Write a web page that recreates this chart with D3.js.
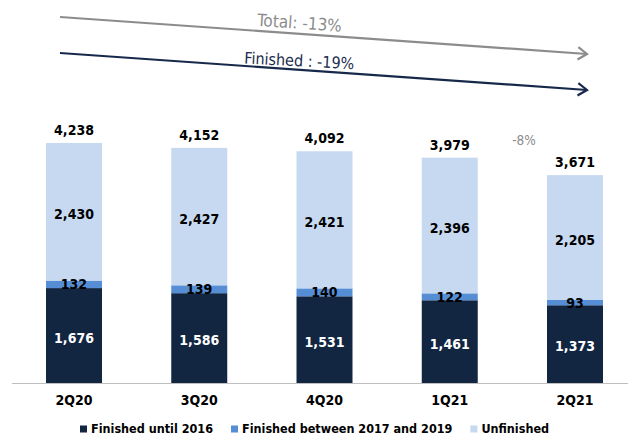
<!DOCTYPE html>
<html>
<head>
<meta charset="utf-8">
<script src="https://cdn.jsdelivr.net/npm/d3@7"></script>
<style>
  body { margin: 0; background: #fff; }
  svg { display: block; font-family: "DejaVu Sans Condensed", "DejaVu Sans", sans-serif; }
  .lbl { font-weight: bold; font-size: 14px; }
</style>
</head>
<body>
<div id="chart"></div>
<script>
const quarters = ["2Q20", "3Q20", "4Q20", "1Q21", "2Q21"];
const finishedUntil2016 = [1676, 1586, 1531, 1461, 1373];
const finished2017to2019 = [132, 139, 140, 122, 93];
const unfinished = [2430, 2427, 2421, 2396, 2205];
const totals = [4238, 4152, 4092, 3979, 3671];
const seriesNames = ["Finished until 2016", "Finished between 2017 and 2019", "Unfinished"];
const seriesColors = ["#122642", "#558ed5", "#c6d9f1"];
const labelColors = ["#fff", "#000", "#000"];
const trendLabels = ["Total: -13%", "Finished : -19%"];
const lastChange = "-8%";

const width = 628, height = 435;
const baseY = 383;

const svg = d3.select("#chart").append("svg")
    .attr("width", width)
    .attr("height", height);

const step = 125.25;
const x = d3.scaleBand()
    .domain(quarters)
    .range([74 - step / 2, 575 + step / 2])
    .paddingInner(0.553)
    .paddingOuter(0.553 / 2);

const y = d3.scaleLinear()
    .domain([0, 4238])
    .range([baseY, 143]);

// stack the three series
const rows = quarters.map((q, i) => ({
    q: q, a: finishedUntil2016[i], b: finished2017to2019[i], c: unfinished[i]
}));
const stack = d3.stack().keys(["a", "b", "c"])(rows);

const layer = svg.selectAll(".layer")
    .data(stack)
    .enter().append("g")
    .attr("class", "layer")
    .attr("fill", (d, i) => seriesColors[i]);

layer.selectAll("rect")
    .data(d => d)
    .enter().append("rect")
    .attr("x", d => x(d.data.q))
    .attr("y", d => y(d[1]))
    .attr("width", x.bandwidth())
    .attr("height", d => y(d[0]) - y(d[1]));

// segment labels
stack.forEach((s, si) => {
    svg.selectAll(".seg" + si)
        .data(s)
        .enter().append("text")
        .attr("class", "lbl seg" + si)
        .attr("x", d => x(d.data.q) + x.bandwidth() / 2)
        .attr("y", d => (y(d[0]) + y(d[1])) / 2 + (si === 1 ? 0 : 2))
        .attr("dy", "0.36em")
        .attr("text-anchor", "middle")
        .attr("fill", labelColors[si])
        .text(d => d3.format(",")(d[1] - d[0]));
});

// totals
svg.selectAll(".tot")
    .data(totals)
    .enter().append("text")
    .attr("class", "lbl tot")
    .attr("x", (d, i) => x(quarters[i]) + x.bandwidth() / 2)
    .attr("y", d => y(d) - 8)
    .attr("text-anchor", "middle")
    .attr("fill", "#000")
    .text(d => d3.format(",")(d));

// x axis
const axis = svg.append("g")
    .attr("transform", "translate(0," + baseY + ")")
    .call(d3.axisBottom(x).tickSize(0).tickPadding(0));
axis.select(".domain").attr("stroke", "#bfbfbf").attr("stroke-width", 1.2);
axis.attr("font-family", null).attr("font-size", null);
axis.selectAll("text")
    .attr("class", "lbl")
    .attr("y", 22)
    .attr("dy", 0)
    .attr("fill", "#000");

// -8% annotation
svg.append("text")
    .attr("x", x("2Q21") - 23)
    .attr("y", 145)
    .attr("text-anchor", "middle")
    .attr("fill", "#8c8c8c")
    .style("font-size", "13.5px")
    .text(lastChange);

// trend arrows
const x0 = x("2Q20") + 14, x1 = x("2Q21") + x.bandwidth() - 16;
const arrows = [
    { label: trendLabels[0], color: "#8c8c8c", text: "#8c8c8c", y0: 17, y1: 54, size: 17, off: 5, rot: 4 },
    { label: trendLabels[1], color: "#17294a", text: "#1a2c4e", y0: 53, y1: 90, size: 16, off: 3.5, rot: 3 }
];
arrows.forEach(a => {
    const ang = Math.atan2(a.y1 - a.y0, x1 - x0);
    svg.append("line")
        .attr("x1", x0).attr("y1", a.y0)
        .attr("x2", x1).attr("y2", a.y1)
        .attr("stroke", a.color).attr("stroke-width", 2.2);
    const L = 11, sp = 0.6;
    const p1 = [x1 - L * Math.cos(ang - sp), a.y1 - L * Math.sin(ang - sp)];
    const p2 = [x1 - L * Math.cos(ang + sp), a.y1 - L * Math.sin(ang + sp)];
    svg.append("path")
        .attr("d", "M" + p1 + "L" + [x1, a.y1] + "L" + p2)
        .attr("fill", "none")
        .attr("stroke", a.color).attr("stroke-width", 2.2);
    const tx = 299;
    const ty = a.y0 + (tx - x0) * Math.tan(ang) - a.off;
    svg.append("text")
        .attr("transform", "translate(" + tx + "," + ty + ") rotate(" + a.rot + ")")
        .attr("text-anchor", "middle")
        .attr("fill", a.text)
        .style("font-size", a.size + "px")
        .text(a.label);
});

// legend
const legend = svg.append("g").attr("transform", "translate(80,432.5)");
let lx = 0;
seriesNames.forEach((n, i) => {
    const g = legend.append("g").attr("transform", "translate(" + lx + ",0)");
    g.append("rect")
        .attr("x", 0).attr("y", -7)
        .attr("width", 7).attr("height", 7)
        .attr("fill", seriesColors[i]);
    const t = g.append("text")
        .attr("x", 11)
        .attr("fill", "#000")
        .style("font-weight", "bold")
        .style("font-size", "12.5px")
        .text(n);
    lx += 11 + t.node().getComputedTextLength() + 18;
});
</script>
</body>
</html>
